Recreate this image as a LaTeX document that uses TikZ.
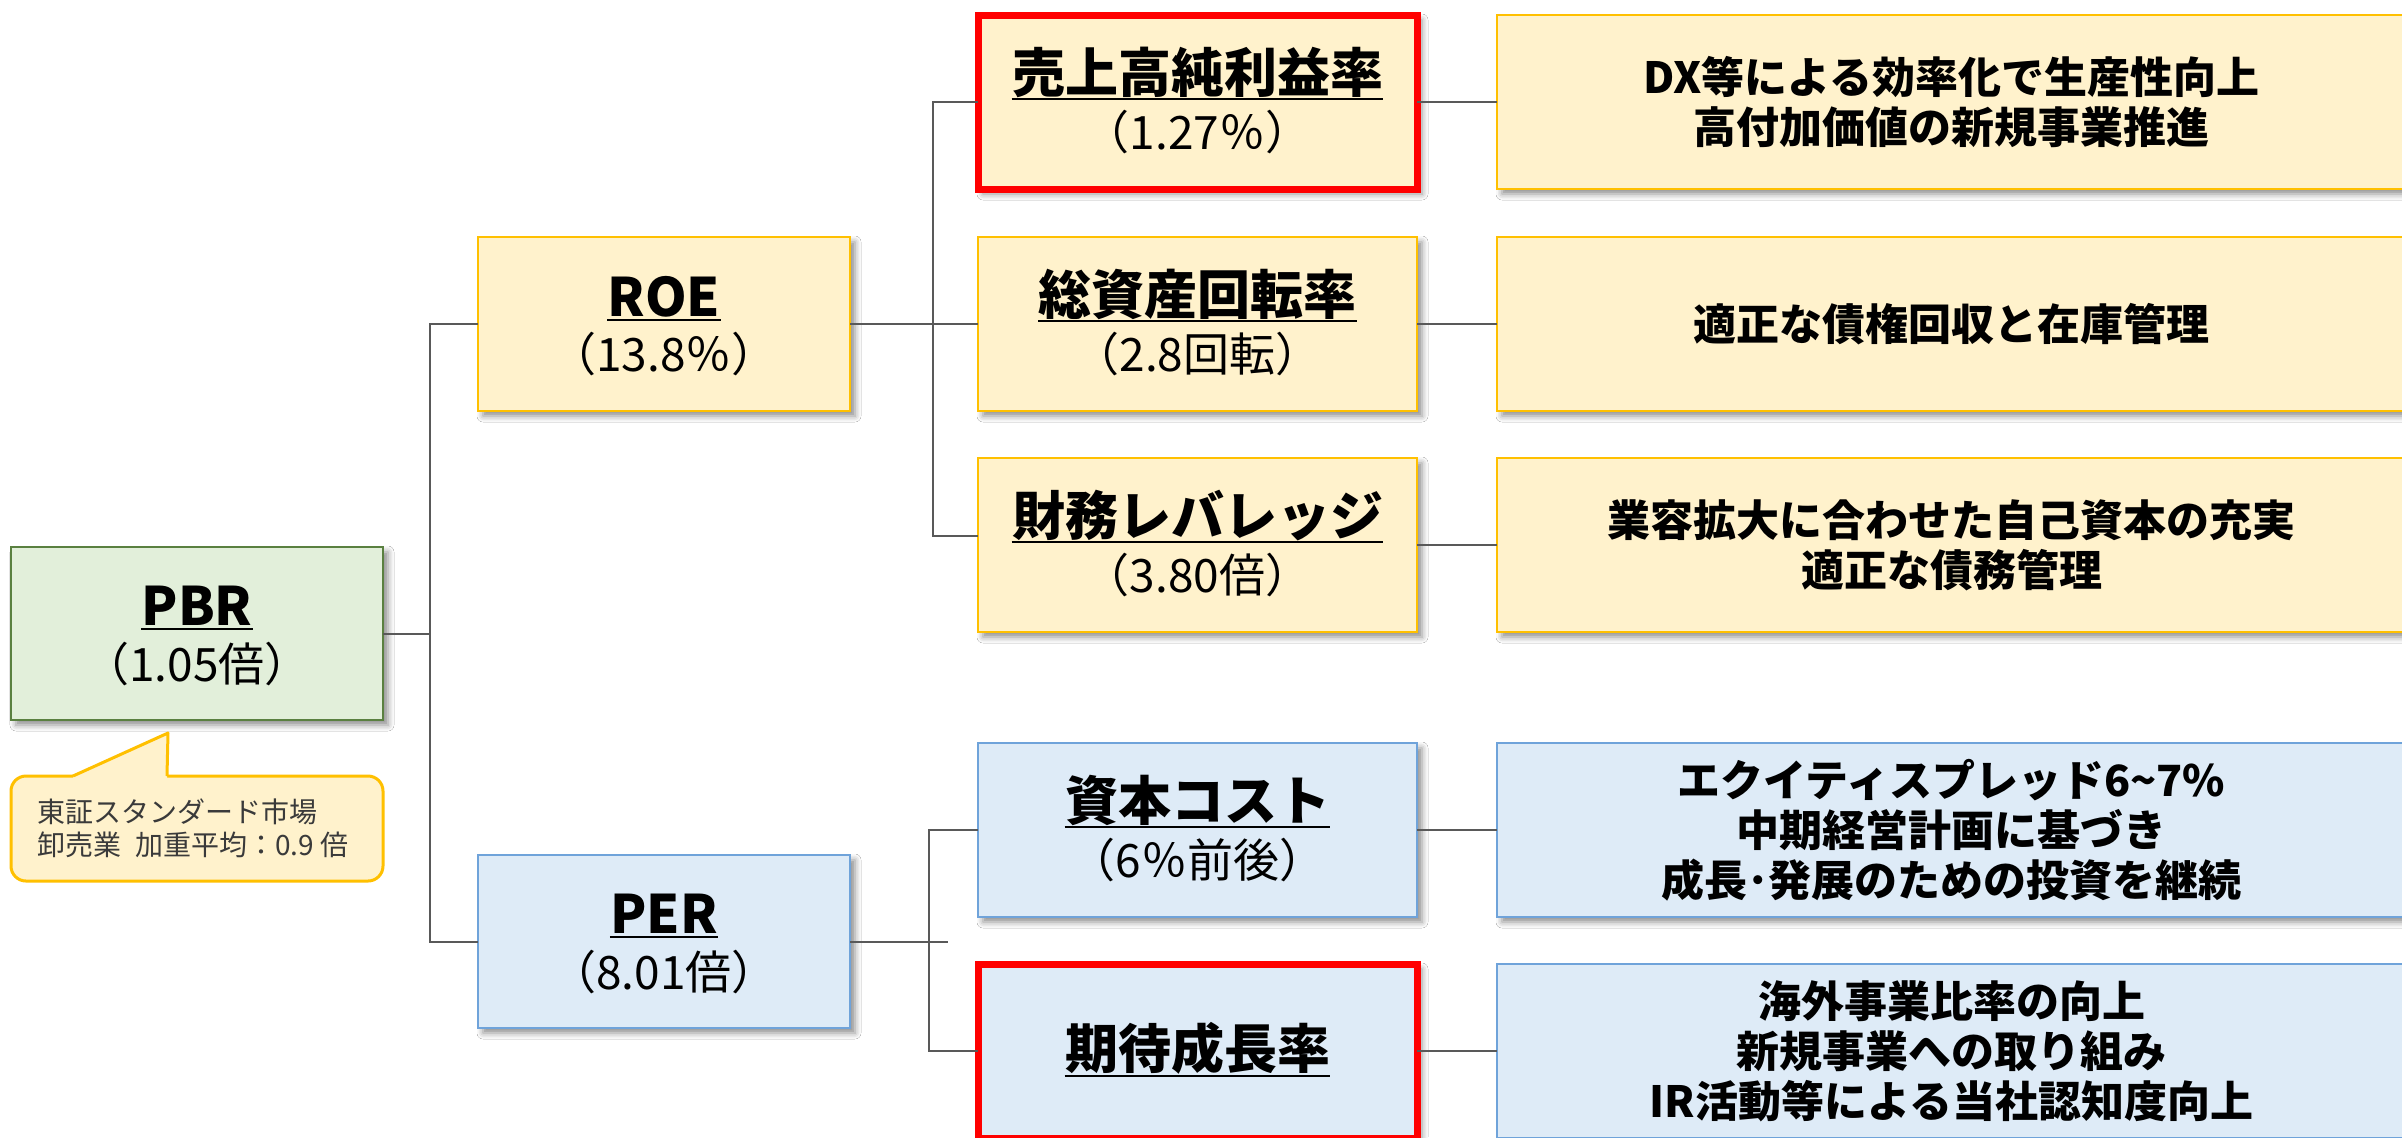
\documentclass[tikz,border=0pt]{standalone}
\usepackage{fontspec}
\setmainfont{Noto Sans CJK JP}
\usetikzlibrary{calc,shadows.blur}
\definecolor{yfill}{HTML}{FFF2CC}
\definecolor{yline}{HTML}{FFC000}
\definecolor{bfill}{HTML}{DEEBF7}
\definecolor{bline}{HTML}{6FA3DA}
\definecolor{gfill}{HTML}{E2EFDA}
\definecolor{gline}{HTML}{5A8040}
\definecolor{conn}{HTML}{595959}
\definecolor{redl}{HTML}{FF0000}
\definecolor{ctext}{HTML}{3A3A3A}
\newcommand\mkttl[5]{\node[ttl] (#1) at ([yshift=#3]#2.center) {#5};
  \draw[uline] ([yshift=-#4]#1.base west) -- ([yshift=-#4]#1.base east);}
\newcommand\mksub[3]{\node[subt] (#1) at ([yshift=-23.8pt]#2.center) {#3};}
\begin{document}
\begin{tikzpicture}[x=0.5pt,y=-0.5pt,
  box/.style={rectangle, inner sep=0pt, outer sep=0pt, anchor=north west,
    blur shadow={shadow xshift=2.5pt, shadow yshift=-2.5pt, shadow blur radius=3pt, shadow opacity=45}},
  ybox/.style={box, fill=yfill, draw=yline, line width=0.9pt},
  bbox/.style={box, fill=bfill, draw=bline, line width=0.8pt},
  gbox/.style={box, fill=gfill, draw=gline, line width=1pt},
  redbox/.style={draw=redl, line width=3.5pt},
  midbox/.style={minimum width=219.5pt, minimum height=87pt},
  leftbox/.style={minimum width=186pt, minimum height=86.5pt},
  rightbox/.style={minimum width=454.5pt, minimum height=87pt},
  cline/.style={draw=conn, line width=1pt},
  uline/.style={line width=1.3pt, black},
  ttl/.style={font=\fontsize{26.5pt}{30pt}\selectfont\bfseries, inner sep=0pt, anchor=base},
  subt/.style={font=\fontsize{23pt}{27pt}\selectfont, inner sep=0pt, anchor=base},
  rtxt/.style={font=\fontsize{21.5pt}{25pt}\selectfont\bfseries, align=center, inner sep=0pt},
  calltext/.style={font=\fontsize{14pt}{16.5pt}\selectfont, text=ctext, align=left, inner sep=0pt, anchor=west}
]
\useasboundingbox (0,0) rectangle (2402,1137);
\fill[white] (0,0) rectangle (2402,1137);

% boxes
\node[gbox, leftbox] (pbr) at (11,547) {};
\node[ybox, leftbox, minimum height=87pt] (roe) at (478,237) {};
\node[bbox, leftbox] (per) at (478,855) {};

\node[ybox, redbox, midbox] (m1) at (978,15) {};
\node[ybox, midbox] (m2) at (978,237) {};
\node[ybox, midbox] (m3) at (978,458) {};
\node[bbox, midbox] (m4) at (978,743) {};
\node[bbox, redbox, midbox] (m5) at (978,964) {};

\node[ybox, rightbox] (r1) at (1497,15) {};
\node[ybox, rightbox] (r2) at (1497,237) {};
\node[ybox, rightbox] (r3) at (1497,458) {};
\node[bbox, rightbox] (r4) at (1497,743) {};
\node[bbox, rightbox] (r5) at (1497,964) {};

% callout
\node[rectangle, anchor=north west, outer sep=0pt, minimum width=186pt, minimum height=52.5pt,
  rounded corners=7.5pt, fill=yfill, draw=yline, line width=1.5pt] (call) at (11,776) {};
\fill[yfill] (73,776) -- (168,733) -- (167,776) -- (167,779.5) -- (73,779.5) -- cycle;
\draw[draw=yline, line width=1.5pt, line join=round] (73,776) -- (168,733) -- (167,776);
\node[calltext] (ct) at ([xshift=13pt]call.west) {東証スタンダード市場\\卸売業\hspace{0.5em}加重平均：0.9 倍};

% connectors
\coordinate (j1) at (430,0);
\coordinate (j2) at (933,0);
\coordinate (j3) at (929,0);
\coordinate (perstub) at (948,941.5);
\draw[cline] (pbr.east) -- (pbr.east -| j1);
\draw[cline] (roe.west) -- (roe.west -| j1) -- (per.west -| j1) -- (per.west);
\draw[cline] (roe.east) -- (m2.west);
\draw[cline] (m1.west) -- (m1.west -| j2) -- ($(m3.west -| j2)+(0,-9)$) -- ($(m3.west)+(0,-9)$);
\draw[cline] (per.east) -- (perstub);
\draw[cline] (m4.west) -- (m4.west -| j3) -- (m5.west -| j3) -- (m5.west);
\draw[cline] (m1.east) -- (r1.west);
\draw[cline] (m2.east) -- (r2.west);
\draw[cline] (m3.east) -- (r3.west);
\draw[cline] (m4.east) -- (r4.west);
\draw[cline] (m5.east) -- (r5.west);

% titles
\mkttl{pbrT}{pbr}{4pt}{1.75pt}{PBR}
\mksub{pbrS}{pbr}{（1.05倍）}
\mkttl{roeT}{roe}{3.8pt}{1.75pt}{ROE}
\mksub{roeS}{roe}{（13.8％）}
\mkttl{perT}{per}{4pt}{1.75pt}{PER}
\mksub{perS}{per}{（8.01倍）}
\mkttl{m1T}{m1}{5pt}{3.5pt}{売上高純利益率}
\mksub{m1S}{m1}{（1.27％）}
\mkttl{m2T}{m2}{5pt}{3.5pt}{総資産回転率}
\mksub{m2S}{m2}{（2.8回転）}
\mkttl{m3T}{m3}{5pt}{3.5pt}{財務レバレッジ}
\mksub{m3S}{m3}{（3.80倍）}
\mkttl{m4T}{m4}{5pt}{3.5pt}{資本コスト}
\mksub{m4S}{m4}{（6％前後）}
\mkttl{m5T}{m5}{-8.7pt}{3.8pt}{期待成長率}

% right texts
\node[rtxt] (t1) at (r1.center) {DX等による効率化で生産性向上\\高付加価値の新規事業推進};
\node[rtxt] (t2) at (r2.center) {適正な債権回収と在庫管理};
\node[rtxt] (t3) at (r3.center) {業容拡大に合わせた自己資本の充実\\適正な債務管理};
\node[rtxt] (t4) at (r4.center) {エクイティスプレッド6\textasciitilde7\%\\中期経営計画に基づき\\成長･発展のための投資を継続};
\node[rtxt] (t5) at (r5.center) {海外事業比率の向上\\新規事業への取り組み\\IR活動等による当社認知度向上};
\end{tikzpicture}
\end{document}
